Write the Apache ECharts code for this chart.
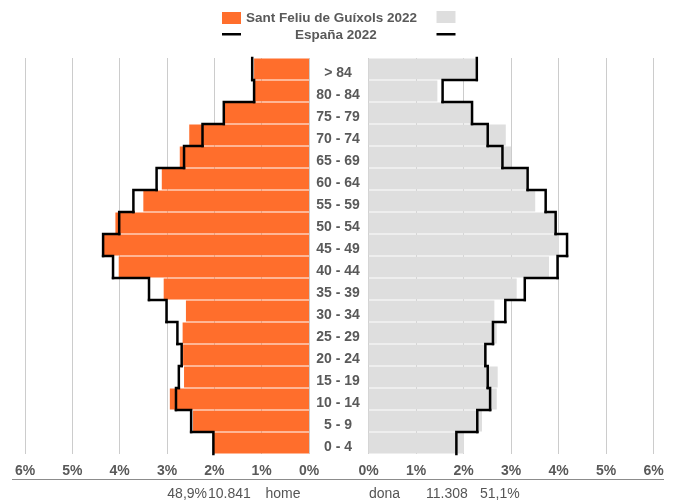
<!DOCTYPE html>
<html>
<head>
<meta charset="utf-8">
<script src="https://cdn.jsdelivr.net/npm/echarts@6/dist/echarts.min.js"></script>
<style>html,body{margin:0;padding:0;background:#fff}#c{width:676px;height:500px}</style>
</head>
<body>
<div id="c"></div>
<script>
const categories = ['0 - 4','5 - 9','10 - 14','15 - 19','20 - 24','25 - 29','30 - 34','35 - 39','40 - 44','45 - 49','50 - 54','55 - 59','60 - 64','65 - 69','70 - 74','75 - 79','80 - 84','> 84'];
const homeLocal = [2.02, 2.45, 2.94, 2.64, 2.66, 2.67, 2.60, 3.07, 4.02, 4.37, 4.09, 3.50, 3.11, 2.73, 2.53, 1.80, 1.15, 1.16];
const homeSpain = [2.02, 2.49, 2.81, 2.75, 2.69, 2.78, 3.01, 3.38, 4.14, 4.35, 4.01, 3.71, 3.22, 2.64, 2.25, 1.80, 1.16, 1.20];
const donaLocal = [2.01, 2.39, 2.70, 2.72, 2.48, 2.70, 2.65, 3.12, 3.80, 4.01, 3.93, 3.51, 3.33, 3.00, 2.89, 2.18, 1.45, 2.25];
const donaSpain = [1.85, 2.29, 2.56, 2.51, 2.46, 2.62, 2.88, 3.29, 3.98, 4.18, 3.94, 3.73, 3.35, 2.82, 2.51, 2.18, 1.56, 2.28];
const xTicks = [0, 1, 2, 3, 4, 5, 6];
const localName = 'Sant Feliu de Guíxols 2022';
const spainName = 'España 2022';
const homeLabel = 'home', donaLabel = 'dona';
const homeTotal = '10.841', homePct = '48,9%';
const donaTotal = '11.308', donaPct = '51,1%';

const FONT = "'Liberation Sans', Arial, sans-serif";
const TXT = '#595959';

function stepRender(values) {
  return function (params, api) {
    const i = params.dataIndex;
    const c = api.coord([api.value(0), i]);
    const h = api.size([0, 1])[1];
    const top = c[1] - h / 2, bot = c[1] + h / 2;
    const pts = [[c[0], bot], [c[0], top]];
    if (i < values.length - 1) {
      const n = api.coord([values[i + 1], i + 1]);
      pts.push([n[0], top]);
    }
    return {
      type: 'polyline',
      z2: 10,
      shape: { points: pts },
      style: { stroke: '#000', lineWidth: 2.5, fill: null, lineCap: 'square', lineJoin: 'miter' }
    };
  };
}

function xAxisCfg(gridIndex, inverse) {
  return {
    type: 'value', gridIndex: gridIndex, inverse: inverse,
    min: xTicks[0], max: xTicks[xTicks.length - 1], interval: 1,
    axisLine: { show: false }, axisTick: { show: false },
    splitLine: { show: true, lineStyle: { color: '#cccccc', width: 1 } },
    axisLabel: { formatter: '{value}%', margin: 10, fontSize: 14, fontWeight: 'bold', color: TXT, fontFamily: FONT }
  };
}

const chart = echarts.init(document.getElementById('c'), null, { renderer: 'canvas' });
chart.setOption({
  animation: false,
  backgroundColor: '#fff',
  textStyle: { fontFamily: FONT },
  title: {
    text: spainName, left: 295, top: 28, padding: 0,
    textStyle: { fontSize: 13.5, fontWeight: 'bold', color: TXT, fontFamily: FONT }
  },
  legend: [
    { left: 222, top: 11, padding: 0, itemWidth: 19, itemHeight: 12, icon: 'rect', selectedMode: false,
      data: [localName], textStyle: { fontSize: 13.5, fontWeight: 'bold', color: TXT, fontFamily: FONT } },
    { left: 436.5, top: 11, padding: 0, itemWidth: 19, itemHeight: 12, icon: 'rect', selectedMode: false,
      data: ['SF dona'], formatter: function () { return ''; } },
    { left: 222, top: 33, padding: 0, itemWidth: 19, itemHeight: 2.5, icon: 'rect', selectedMode: false,
      data: [{ name: spainName, itemStyle: { color: '#000' } }], formatter: function () { return ''; } },
    { left: 436.5, top: 33, padding: 0, itemWidth: 19, itemHeight: 2.5, icon: 'rect', selectedMode: false,
      data: [{ name: 'ES dona', itemStyle: { color: '#000' } }], formatter: function () { return ''; } }
  ],
  grid: [
    { left: 25, width: 284, top: 58, height: 396 },
    { left: 368.5, width: 285, top: 58, height: 396 }
  ],
  xAxis: [xAxisCfg(0, true), xAxisCfg(1, false)],
  yAxis: [
    { type: 'category', gridIndex: 0, data: categories, axisLine: { show: false }, axisTick: { show: false }, axisLabel: { show: false } },
    { type: 'category', gridIndex: 1, data: categories, axisLine: { show: false }, axisTick: { show: false },
      axisLabel: { show: true, margin: 30.5, align: 'center', verticalAlign: 'top', lineHeight: 9, fontSize: 14, fontWeight: 'bold', color: TXT, fontFamily: FONT } }
  ],
  series: [
    { name: localName, type: 'bar', xAxisIndex: 0, yAxisIndex: 0, data: homeLocal, barWidth: 21, z: 2,
      itemStyle: { color: '#FF6E2C' } },
    { name: 'SF dona', type: 'bar', xAxisIndex: 1, yAxisIndex: 1, data: donaLocal, barWidth: 21, z: 2,
      itemStyle: { color: '#DEDEDE' } },
    { name: spainName, type: 'custom', xAxisIndex: 0, yAxisIndex: 0, z: 10, itemStyle: { color: '#000' },
      data: homeSpain.map(function (v, i) { return [v, i]; }), encode: { x: 0, y: 1 },
      renderItem: stepRender(homeSpain) },
    { name: 'ES dona', type: 'custom', xAxisIndex: 1, yAxisIndex: 1, z: 10, itemStyle: { color: '#000' },
      data: donaSpain.map(function (v, i) { return [v, i]; }), encode: { x: 0, y: 1 },
      renderItem: stepRender(donaSpain) }
  ],
  graphic: [
    { type: 'line', shape: { x1: 12, y1: 479.5, x2: 664, y2: 479.5 }, style: { stroke: '#8c8c8c', lineWidth: 1 }, silent: true },
    { type: 'text', style: { text: homePct, x: 207, y: 494, align: 'right', verticalAlign: 'middle', font: '14px ' + FONT, fill: '#555' } },
    { type: 'text', style: { text: homeTotal, x: 208, y: 494, align: 'left', verticalAlign: 'middle', font: '14px ' + FONT, fill: '#555' } },
    { type: 'text', style: { text: homeLabel, x: 265.5, y: 494, align: 'left', verticalAlign: 'middle', font: '14px ' + FONT, fill: '#555' } },
    { type: 'text', style: { text: donaLabel, x: 369, y: 494, align: 'left', verticalAlign: 'middle', font: '14px ' + FONT, fill: '#555' } },
    { type: 'text', style: { text: donaTotal, x: 426, y: 494, align: 'left', verticalAlign: 'middle', font: '14px ' + FONT, fill: '#555' } },
    { type: 'text', style: { text: donaPct, x: 480, y: 494, align: 'left', verticalAlign: 'middle', font: '14px ' + FONT, fill: '#555' } }
  ]
});
</script>
</body>
</html>
